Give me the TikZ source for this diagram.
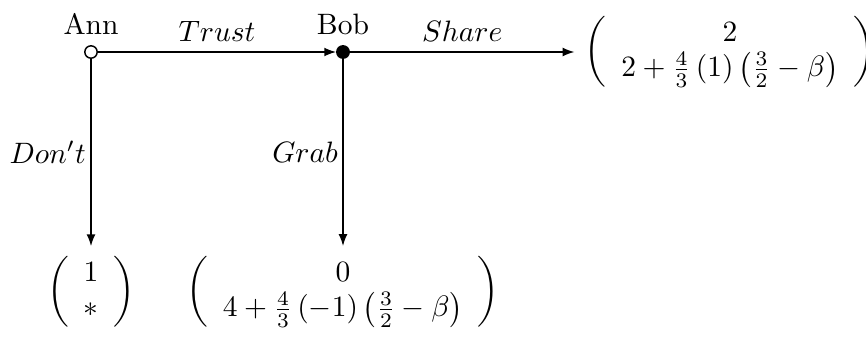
\documentclass[tikz,border=0pt]{standalone}
\usetikzlibrary{arrows.meta}
\begin{document}
\begin{tikzpicture}[x=0.339pt,y=-0.339pt,
  conn/.style={line width=0.5pt,-{Latex[length=4pt,width=3pt]}},
  opendot/.style={circle,draw,line width=0.5pt,fill=white,inner sep=0pt,minimum size=4.2pt},
  fulldot/.style={circle,draw,line width=0.5pt,fill=black,inner sep=0pt,minimum size=4.2pt},
  payoff/.style={inner sep=3.33pt},
  lab/.style={inner sep=3.33pt},
  sidelab/.style={inner sep=1.5pt}]
\useasboundingbox (0,0) rectangle (866,340);
\node[opendot,label={[lab]above:Ann}] (ann) at (91,52) {};
\node[fulldot,label={[lab]above:Bob}] (bob) at (343,52) {};
\node[payoff] (m3) at (730,52) {$\left(\begin{array}{c} 2\\ 2+\frac{4}{3}\left(1\right)\left(\frac{3}{2}-\beta\right)\end{array}\right)$};
\node[payoff] (m1) at (91,292) {$\left(\begin{array}{c} 1\\{} *\end{array}\right)$};
\node[payoff] (m2) at (343,292) {$\left(\begin{array}{c} 0\\ 4+\frac{4}{3}\left(-1\right)\left(\frac{3}{2}-\beta\right)\end{array}\right)$};
\draw[conn] (ann) -- node[lab,above] {$Trust$} (bob);
\draw[conn] (bob) -- node[lab,above] {$Share$} (m3);
\draw[conn] (ann) -- node[sidelab,left] {$Don't$} (m1);
\draw[conn] (bob) -- node[sidelab,left] {$Grab$} (m2);
\end{tikzpicture}
\end{document}
